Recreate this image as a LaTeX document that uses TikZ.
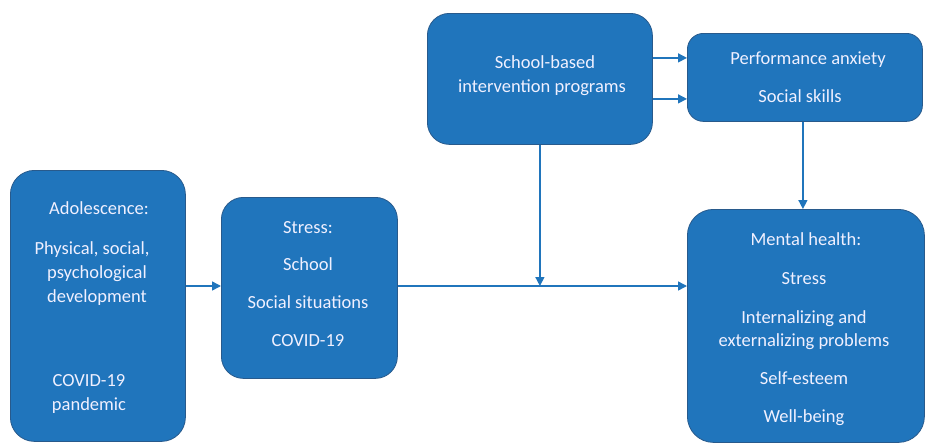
\documentclass[tikz,border=0pt]{standalone}
\usepackage{fontspec}
\setmainfont{Carlito}
\usetikzlibrary{arrows.meta,calc}
\definecolor{boxfill}{RGB}{32,117,188}
\definecolor{boxline}{RGB}{40,90,140}
\definecolor{linkblue}{RGB}{32,117,188}
\begin{document}
\begin{tikzpicture}[x=1pt,y=-1pt,
  panel/.style={draw=boxline,line width=0.8pt,fill=boxfill,rounded corners=#1,inner sep=0pt,anchor=north west},
  panel/.default=22pt,
  lbl/.style={text=white!94!blue,font=\fontsize{18.5}{20}\selectfont,inner sep=0pt,text height=0.7em,text depth=0.2em,yshift=-4pt},
  arr/.style={draw=linkblue,line width=1.5pt,-{Triangle[length=9pt,width=9pt]}}]
\useasboundingbox (0,0) rectangle (925,442);
% boxes
\node[panel=24pt,minimum width=175pt,minimum height=271pt] (adol) at (10,170) {};
\node[panel=22pt,minimum width=176pt,minimum height=181pt] (stress) at (221,197) {};
\node[panel=22pt,minimum width=225pt,minimum height=131pt] (school) at (427,13) {};
\node[panel=16pt,minimum width=235pt,minimum height=88pt] (perf) at (687,33) {};
\node[panel=26pt,minimum width=237pt,minimum height=233pt] (mental) at (687,209) {};
% texts
\node[lbl] (a1) at (99,208) {Adolescence:};
\node[lbl] (a2) at (92,248) {Physical, social,};
\node[lbl] (a3) at (97,272) {psychological};
\node[lbl] (a4) at (97,296) {development};
\node[lbl] (a5) at (89,380) {COVID-19};
\node[lbl] (a6) at (89,404) {pandemic};
\node[lbl] (s1) at (308,227) {Stress:};
\node[lbl] (s2) at (308,264) {School};
\node[lbl] (s3) at (308,302) {Social situations};
\node[lbl] (s4) at (308,340) {COVID-19};
\node[lbl] (p1) at (545,62) {School-based};
\node[lbl] (p2) at (542,86) {intervention programs};
\node[lbl] (q1) at (808,58) {Performance anxiety};
\node[lbl] (q2) at (800,96) {Social skills};
\node[lbl] (m1) at (806,239) {Mental health:};
\node[lbl] (m2) at (804,278) {Stress};
\node[lbl] (m3) at (804,317) {Internalizing and};
\node[lbl] (m4) at (804,340) {externalizing problems};
\node[lbl] (m5) at (804,378) {Self-esteem};
\node[lbl] (m6) at (804,416) {Well-being};
% connectors
\coordinate (mainline) at (0,286);
\draw[arr] (adol.east |- mainline) -- (stress.west |- mainline);
\draw[arr] (stress.east |- mainline) -- (mental.west |- mainline);
\draw[arr] (school.south) -- (school.south |- mainline);
\draw[arr] ([yshift=21pt]school.east) -- ([yshift=21pt]school.east -| perf.west);
\draw[arr] ([yshift=-20pt]school.east) -- ([yshift=-20pt]school.east -| perf.west);
\draw[arr] ([xshift=-2pt]perf.south) -- ([xshift=-2pt]perf.south |- mental.north);
\end{tikzpicture}
\end{document}
